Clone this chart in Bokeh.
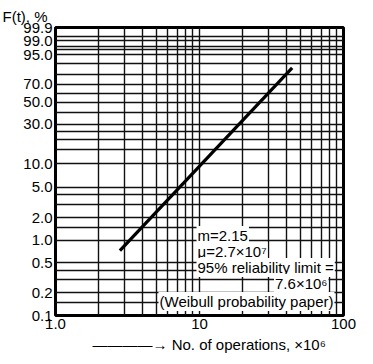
import numpy as np
from bokeh.plotting import figure
from bokeh.models import Range1d, FixedTicker, Label, Title
from bokeh.embed import file_html
from bokeh.resources import INLINE

# ---- data ----
ops = [2.8, 44.0]            # No. of operations, x10^6 (ends of fitted line)
F_pct = [0.73, 86.5]         # F(t), %

x_grid = [1, 2, 3, 4, 5, 6, 7, 8, 9, 10, 20, 30, 40, 50, 60, 70, 80, 90, 100]
F_grid = [0.1, 0.15, 0.2, 0.3, 0.4, 0.5, 1.0, 1.5, 2.0, 3.0, 4.0, 5.0, 10.0, 15.0,
          20.0, 25.0, 30.0, 40.0, 50.0, 60.0, 70.0, 80.0, 90.0, 95.0, 97.0, 98.0,
          99.0, 99.5, 99.9]
F_ticks = [0.1, 0.2, 0.5, 1.0, 2.0, 5.0, 10.0, 30.0, 50.0, 70.0, 95.0, 99.0, 99.9]
F_tick_labels = ["0.1", "0.2", "0.5", "1.0", "2.0", "5.0", "10.0", "30.0", "50.0",
                 "70.0", "95.0", "99.0", "99.9"]
x_ticks = [1, 10, 100]
x_tick_labels = ["1.0", "10", "100"]

box_lines = ["m=2.15", "\u03bc=2.7\u00d710\u2077", "95% reliability limit =",
             "7.6\u00d710\u2076", "(Weibull probability paper)"]
y_title = "F(t), %"
x_title = "\u2014\u2014\u2014\u2014\u2192 No. of operations, \u00d710\u2076"


def wb(F):
    """Weibull probability paper transform: ln(-ln(1-F))."""
    return np.log(-np.log(1.0 - np.asarray(F, dtype=float) / 100.0))


FONT = "Liberation Sans"
Y0, Y1 = float(wb(0.1)), float(wb(99.9))

# page-pixel geometry of the frame (for placing annotations)
FL, FR, FT, FB = 55, 343, 27, 315


def px_x(px):
    return 10 ** ((px - FL) / (FR - FL) * 2.0)


def px_y(py):
    return Y0 + (FB - py) / (FB - FT) * (Y1 - Y0)


p = figure(width=373, height=364, x_axis_type="log",
           x_range=Range1d(1, 100), y_range=Range1d(Y0, Y1),
           output_backend="svg", toolbar_location=None,
           min_border_left=FL, min_border_right=373 - FR,
           min_border_top=FT, min_border_bottom=364 - FB)

p.outline_line_color = "black"
p.outline_line_width = 3
p.background_fill_color = "white"
p.border_fill_color = "white"

# y-axis title at the top left
p.title.text = y_title
p.title.align = "left"
p.title.offset = -53
p.title.standoff = 5
p.title.text_font = FONT
p.title.text_font_size = "15px"
p.title.text_font_style = "normal"
p.title.text_color = "black"

# grids
p.xgrid.ticker = FixedTicker(ticks=x_grid)
p.ygrid.ticker = FixedTicker(ticks=[float(v) for v in wb(F_grid)])
for g in (p.xgrid, p.ygrid):
    g.grid_line_color = "#111111"
    g.grid_line_width = 1.4
    g.grid_line_alpha = 1.0
    g.minor_grid_line_color = None

# axes
p.xaxis.ticker = FixedTicker(ticks=x_ticks)
p.xaxis.major_label_overrides = {t: s for t, s in zip(x_ticks, x_tick_labels)}
yt = [float(v) for v in wb(F_ticks)]
p.yaxis.ticker = FixedTicker(ticks=yt)
p.yaxis.major_label_overrides = {t: s for t, s in zip(yt, F_tick_labels)}
for ax in (p.xaxis, p.yaxis):
    ax.axis_line_color = None
    ax.major_tick_line_color = None
    ax.minor_tick_line_color = None
    ax.major_tick_out = 0
    ax.major_tick_in = 0
    ax.major_label_text_font = FONT
    ax.major_label_text_font_size = "15px"
    ax.major_label_text_color = "black"
p.xaxis.major_label_standoff = 3
p.yaxis.major_label_standoff = 3

# x-axis title with arrow, placed below
p.add_layout(Title(text=x_title, align="left", offset=37, standoff=5,
                   text_font=FONT, text_font_size="15px",
                   text_font_style="normal", text_color="black"), "below")

# fitted line
p.line(ops, [float(v) for v in wb(F_pct)], line_color="black", line_width=3.2)

# annotation box text
pos = [(196, 235, "left"), (196, 251, "left"), (196, 267, "left"),
       (328, 283, "right"), (158, 301, "left")]
for (px, py, al), txt in zip(pos, box_lines):
    p.add_layout(Label(x=px_x(px), y=px_y(py), text=txt, text_font=FONT,
                       text_font_size="15px", text_align=al,
                       text_baseline="middle", text_color="black",
                       background_fill_color="white", padding=1))

open("out.html", "w").write(file_html(p, INLINE))
